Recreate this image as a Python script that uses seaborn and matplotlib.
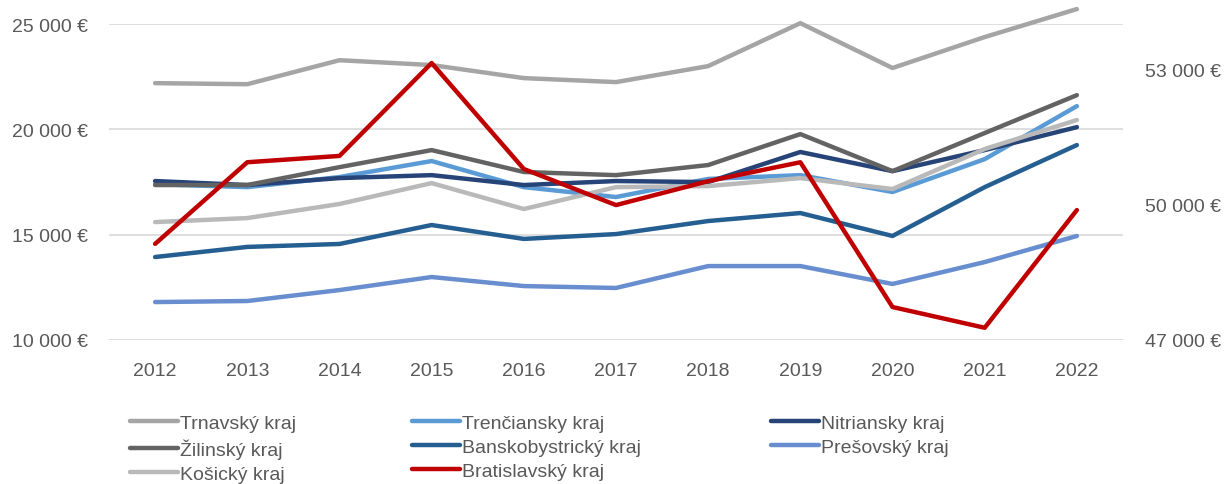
import numpy as np
import pandas as pd
import matplotlib
matplotlib.use("Agg")
import matplotlib.pyplot as plt
from matplotlib.ticker import FuncFormatter
import seaborn as sns

# %% Data

years = list(range(2012, 2023))

trnavsky = [22200, 22150, 23290, 23060, 22440, 22250, 23010, 25050, 22920, 24390, 25720]
trenciansky = [17400, 17260, 17740, 18500, 17260, 16790, 17650, 17830, 17030, 18590, 21110]
nitriansky = [17550, 17360, 17690, 17830, 17360, 17550, 17500, 18930, 18020, 19020, 20110]
zilinsky = [17360, 17360, 18210, 19020, 17980, 17830, 18310, 19780, 18020, 19830, 21630]
banskobystricky = [13940, 14420, 14560, 15460, 14800, 15030, 15650, 16030, 14940, 17260, 19260]
presovsky = [11800, 11850, 12370, 12990, 12560, 12470, 13510, 13510, 12660, 13700, 14940]
kosicky = [15600, 15790, 16460, 17450, 16220, 17260, 17310, 17690, 17170, 19070, 20450]
bratislavsky = [49130, 50940, 51080, 53140, 50790, 49990, 50520, 50940, 47730, 47270, 49880]

left_series = [
    ('Trnavský kraj', trnavsky, '#A5A5A5'),
    ('Trenčiansky kraj', trenciansky, '#5B9BD5'),
    ('Nitriansky kraj', nitriansky, '#264478'),
    ('Žilinský kraj', zilinsky, '#636363'),
    ('Banskobystrický kraj', banskobystricky, '#255E91'),
    ('Prešovský kraj', presovsky, '#698ED0'),
    ('Košický kraj', kosicky, '#B9B9B9'),
]
right_series = ('Bratislavský kraj', bratislavsky, '#C00000')

left_ticks = [10000, 15000, 20000, 25000]
right_ticks = [47000, 50000, 53000]

# %% Style

sns.set_style('white')
plt.rcParams['font.family'] = ['Liberation Sans', 'DejaVu Sans']
text_col = '#595959'
fs = 14

fig = plt.figure(figsize=(12.25, 4.85), dpi=100)
ax = fig.add_axes([0.089, 0.297, 0.8277, 0.651])
ax2 = ax.twinx()

line_kw = dict(lw=3.2, solid_capstyle='round', solid_joinstyle='round', clip_on=False)

handles = {}
for name, vals, col in left_series:
    df = pd.DataFrame({'x': np.arange(len(years)), 'y': vals})
    sns.lineplot(data=df, x='x', y='y', ax=ax, color=col, **line_kw)
    handles[name] = ax.lines[-1]

name, vals, col = right_series
df = pd.DataFrame({'x': np.arange(len(years)), 'y': vals})
sns.lineplot(data=df, x='x', y='y', ax=ax2, color=col, **line_kw)
handles[name] = ax2.lines[-1]

# %% Axes

euro = FuncFormatter(lambda v, p: f'{v:,.0f}'.replace(',', ' ') + ' €')

ax.set_xlim(-0.5, len(years) - 0.5)
ax.set_xticks(np.arange(len(years)))
ax.set_xticklabels([str(y) for y in years])
ax.set_ylim(10000, 25000)
ax.set_yticks(left_ticks)
ax.yaxis.set_major_formatter(euro)
ax2.set_ylim(47000, 54000)
ax2.set_yticks(right_ticks)
ax2.yaxis.set_major_formatter(euro)

ax.grid(axis='y', color='#D9D9D9', lw=1.2)
ax.grid(axis='x', visible=False)
ax.set_xlabel('')
ax.set_ylabel('')
ax2.set_ylabel('')
for a in (ax, ax2):
    for s in a.spines.values():
        s.set_visible(False)
ax.tick_params(axis='y', length=0, pad=15, labelsize=fs, labelcolor=text_col)
ax.tick_params(axis='x', length=0, pad=16, labelsize=fs, labelcolor=text_col)
ax2.tick_params(axis='y', length=0, pad=16, labelsize=fs, labelcolor=text_col)
ax2.set_zorder(ax.get_zorder() + 1)
ax2.patch.set_visible(False)

# %% Legend, three columns placed separately

columns = [
    (['Trnavský kraj', 'Žilinský kraj', 'Košický kraj'], 0.106),
    (['Trenčiansky kraj', 'Banskobystrický kraj', 'Bratislavský kraj'], 0.336),
    (['Nitriansky kraj', 'Prešovský kraj'], 0.629),
]
for names, xpos in columns:
    leg = fig.legend([handles[n] for n in names], names, loc='upper left',
                     bbox_to_anchor=(xpos, 0.143), frameon=False, fontsize=fs,
                     handlelength=2.5, handletextpad=0.1, labelspacing=0.32,
                     borderaxespad=0, borderpad=0)
    for t in leg.get_texts():
        t.set_color(text_col)
    for l in leg.get_lines():
        l.set_solid_capstyle('round')

fig.savefig('out.png', dpi=100)
